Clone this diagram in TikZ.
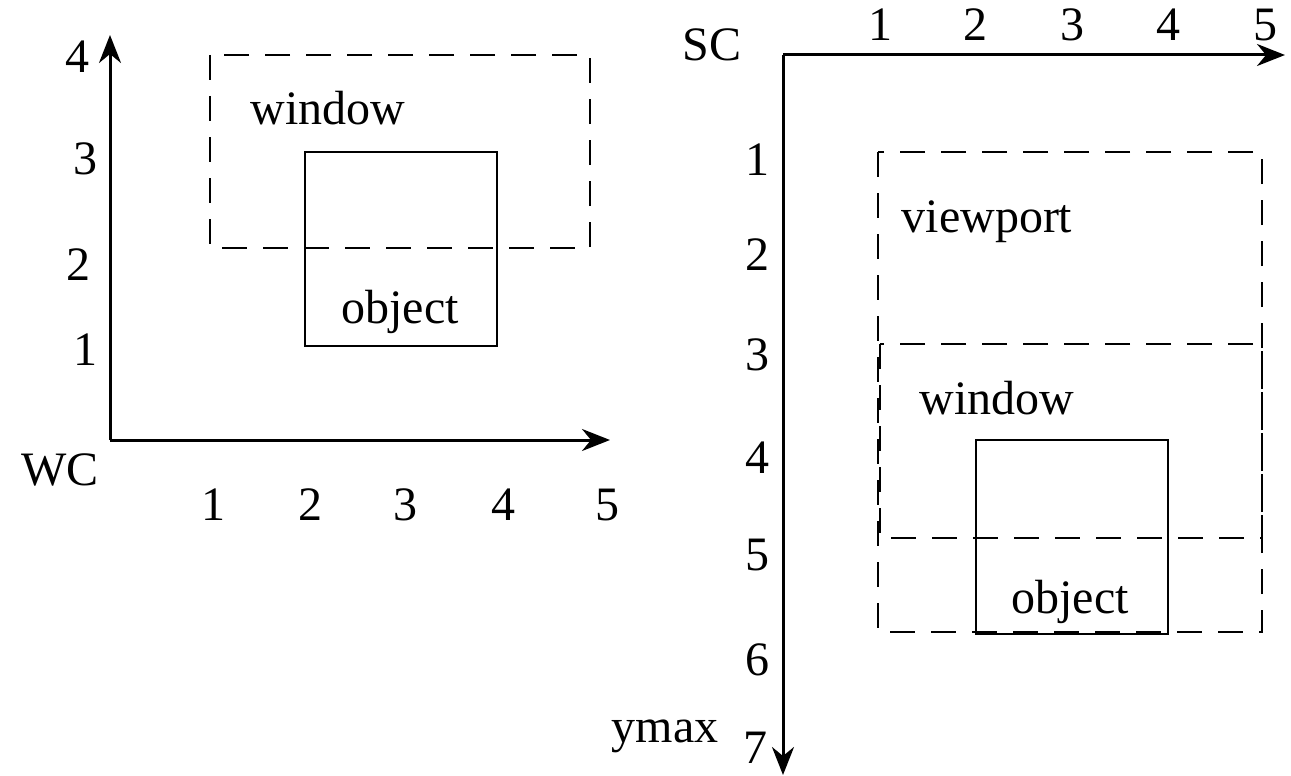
\documentclass[tikz,border=0pt]{standalone}
\usepackage{fontspec}
\setmainfont{Liberation Serif}
\usetikzlibrary{arrows.meta}
\begin{document}
\begin{tikzpicture}[x=1pt,y=-1pt,
  lbl/.style={inner sep=0pt,font=\fontsize{48}{57}\selectfont},
  axis/.style={line width=3pt,-{Stealth[length=28pt,width=22pt,inset=9pt]}},
  dbox/.style={line width=2.6pt,dash pattern=on 25pt off 16pt},
  sbox/.style={line width=2.4pt}]
\useasboundingbox (0,0) rectangle (1291,776);
% left diagram
\coordinate (wo) at (110,440);
\coordinate (wy) at (110,35);
\coordinate (wx) at (610,440);
\draw[axis] (wo) -- (wy);
\draw[axis] (wo) -- (wx);
\node[lbl] (wl4) at (77,57) {4};
\node[lbl] (wl3) at (85,159) {3};
\node[lbl] (wl2) at (78,265) {2};
\node[lbl] (wl1) at (85,350) {1};
\node[lbl] (wc) at (60,470) {WC};
\node[lbl] (wx1) at (213,505) {1};
\node[lbl] (wx2) at (310,505) {2};
\node[lbl] (wx3) at (405,505) {3};
\node[lbl] (wx4) at (503,505) {4};
\node[lbl] (wx5) at (607,505) {5};
\draw[dbox] (210,55) rectangle (590,248);
\draw[sbox] (305,152) rectangle (497,346);
\node[lbl] (wwin) at (328,108) {window};
\node[lbl] (wobj) at (400,312) {object};
% right diagram
\coordinate (so) at (783,55);
\coordinate (sx) at (1285,55);
\coordinate (sy) at (783,775);
\draw[axis] (so) -- (sx);
\draw[axis] (so) -- (sy);
\node[lbl] (sc) at (712,45) {SC};
\node[lbl] (sx1) at (880,25) {1};
\node[lbl] (sx2) at (975,25) {2};
\node[lbl] (sx3) at (1072,25) {3};
\node[lbl] (sx4) at (1168,25) {4};
\node[lbl] (sx5) at (1265,25) {5};
\node[lbl] (sy1) at (757,160) {1};
\node[lbl] (sy2) at (757,255) {2};
\node[lbl] (sy3) at (757,355) {3};
\node[lbl] (sy4) at (757,458) {4};
\node[lbl] (sy5) at (757,555) {5};
\node[lbl] (sy6) at (757,660) {6};
\node[lbl] (sy7) at (755,748) {7};
\node[lbl] (ymax) at (665,736) {ymax};
\draw[dbox] (878,152) rectangle (1262,632);
\draw[dbox] (880,344) rectangle (1262,538);
\draw[sbox] (976,440) rectangle (1168,634);
\node[lbl] (vp) at (987,222) {viewport};
\node[lbl] (swin) at (997,398) {window};
\node[lbl] (sobj) at (1070,602) {object};
\end{tikzpicture}
\end{document}
